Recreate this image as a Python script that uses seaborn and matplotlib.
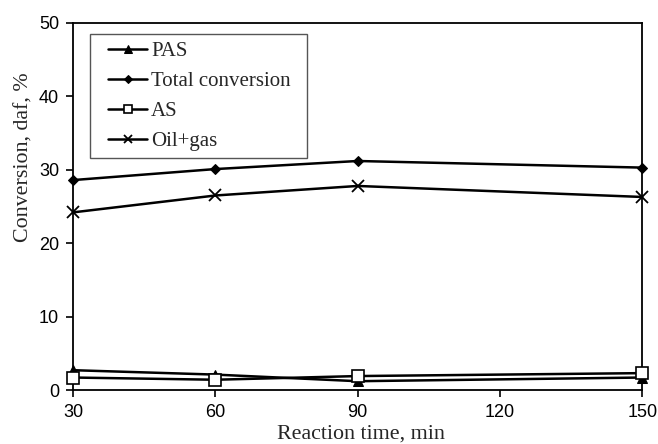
import matplotlib
matplotlib.use("Agg")
import matplotlib.pyplot as plt
import seaborn as sns
import pandas as pd
from matplotlib.legend_handler import HandlerLine2D
from matplotlib.patches import Rectangle

time_min = [30, 60, 90, 150]
pas = [2.7, 2.1, 1.2, 1.7]
total_conversion = [28.6, 30.1, 31.2, 30.3]
as_vals = [1.7, 1.4, 1.9, 2.3]
oil_gas = [24.2, 26.5, 27.8, 26.3]

series_names = ["PAS", "Total conversion", "AS", "Oil+gas"]
series_values = [pas, total_conversion, as_vals, oil_gas]

sns.set_style("white")
plt.rcParams['font.family'] = ['Liberation Sans', 'DejaVu Sans']

fig = plt.figure(figsize=(6.58, 4.44), dpi=100)
ax = fig.add_axes([0.111, 0.1216, 0.865, 0.8266])

styles = {
    "PAS": dict(marker="^", markersize=7, markerfacecolor="black", markeredgecolor="black"),
    "Total conversion": dict(marker="D", markersize=5.5, markerfacecolor="black", markeredgecolor="black"),
    "AS": dict(marker="s", markersize=8, markerfacecolor="white", markeredgecolor="black", markeredgewidth=1.2),
    "Oil+gas": dict(marker="x", markersize=8, markeredgecolor="black", markeredgewidth=1.3),
}

for name, vals in zip(series_names, series_values):
    df = pd.DataFrame({"t": time_min, "v": vals})
    sns.lineplot(data=df, x="t", y="v", ax=ax, color="black", linewidth=1.8,
                 label=name, clip_on=False, zorder=3, **styles[name])

ax.set_xlim(30, 150)
ax.set_ylim(0, 50)
ax.set_xticks([30, 60, 90, 120, 150])
ax.set_yticks([0, 10, 20, 30, 40, 50])
ax.tick_params(axis="both", direction="out", length=5, width=1.2, labelsize=13,
               colors="black", bottom=True, left=True, pad=5)
for s in ax.spines.values():
    s.set_color("black")
    s.set_linewidth(1.3)

ax.set_xlabel("Reaction time, min", fontsize=15.8, family=["Liberation Serif"])
ax.set_ylabel("Conversion, daf, %", fontsize=15.8, family=["Liberation Serif"])
ax.xaxis.set_label_coords(0.506, -0.093)
ax.yaxis.set_label_coords(-0.069, 0.635)


class ShiftedHandler(HandlerLine2D):
    def __init__(self, shift, **kw):
        super().__init__(**kw)
        self.shift = shift

    def create_artists(self, legend, orig_handle, xdescent, ydescent, width,
                       height, fontsize, trans):
        s = self.shift * fontsize
        return super().create_artists(legend, orig_handle, xdescent - s, ydescent,
                                      width - s, height, fontsize, trans)


handles, labels = ax.get_legend_handles_labels()
leg = ax.legend(handles, labels, loc="upper left", bbox_to_anchor=(0.03, 0.97),
                frameon=False,
                prop={"family": "Liberation Serif", "size": 15},
                handlelength=2.39, handletextpad=0.19, labelspacing=0.5,
                borderpad=0.35, borderaxespad=0,
                handler_map={h: ShiftedHandler(0.52) for h in handles})
for h in leg.legend_handles:
    h.set_markersize(h.get_markersize() * 0.75)

fig.canvas.draw()
bb = leg.get_window_extent(fig.canvas.get_renderer())
inv = fig.transFigure.inverted()
(x0, y0) = inv.transform((bb.x0, bb.y0))
(x1, y1) = inv.transform((bb.x1 + 9, bb.y1))
frame = Rectangle((x0, y0), x1 - x0, y1 - y0, transform=fig.transFigure,
                  facecolor="white", edgecolor="#555555", linewidth=1.0, zorder=4)
ax.add_artist(frame)
frame.set_transform(fig.transFigure)
leg.set_zorder(5)

fig.savefig("out.png", dpi=100)
